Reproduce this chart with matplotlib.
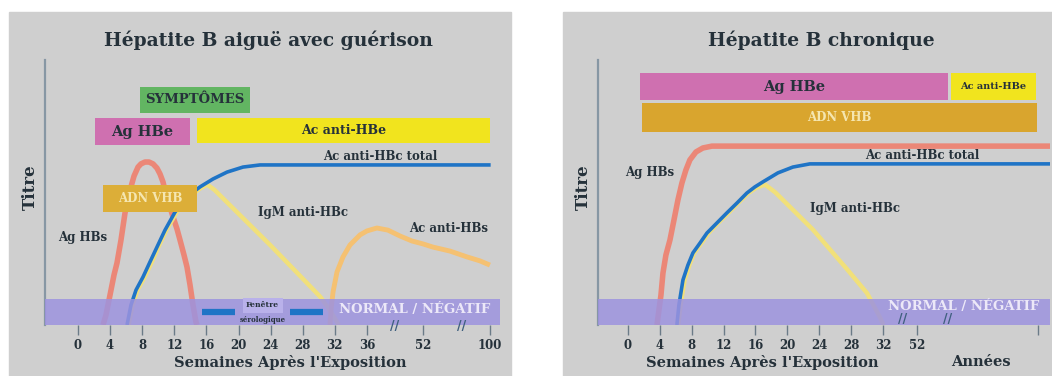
import numpy as np
import matplotlib
matplotlib.use('Agg')
import matplotlib.pyplot as plt
from matplotlib.patches import Rectangle

# --- data (weeks after exposure, relative titre 0..1) ---
# acute hepatitis B with recovery
acute_ticks = [0, 4, 8, 12, 16, 20, 24, 28, 32, 36, 52, 100]
acute_tick_labels = ['0', '4', '8', '12', '16', '20', '24', '28', '32', '36', '52', '100']
acute_tick_pos = [0, 1, 2, 3, 4, 5, 6, 7, 8, 9, 10.745, 12.832]

acute_hbs_w = [3.12, 3.49, 3.99, 4.49, 4.86, 5.36, 5.86, 6.23, 6.60, 6.98, 7.48, 7.85, 8.35, 8.85,
               9.35, 9.84, 10.22, 10.59, 10.97, 11.46, 11.84, 12.34, 12.71, 13.21, 13.58, 13.96,
               14.33, 14.70, 14.83]
acute_hbs_y = [0, 0.038, 0.113, 0.189, 0.234, 0.321, 0.423, 0.472, 0.521, 0.562, 0.596, 0.608, 0.615,
               0.615, 0.608, 0.592, 0.570, 0.540, 0.491, 0.445, 0.408, 0.362, 0.321, 0.264, 0.219,
               0.151, 0.075, 0.011, 0]

acute_hbc_w = [6.11, 6.60, 7.23, 8.10, 8.97, 9.84, 10.84, 12.09, 13.58, 15.20, 16.82, 18.57, 20.56,
               22.68, 100.5]
acute_hbc_y = [0, 0.075, 0.132, 0.181, 0.238, 0.294, 0.358, 0.426, 0.483, 0.521, 0.551, 0.577, 0.596,
               0.604, 0.604]

acute_igm_w = [6.3, 6.8, 7.4, 8.3, 9.2, 10.0, 11.0, 12.3, 13.8, 15.2, 16.1, 17.0, 20.0, 24.0, 28.0,
               30.2, 31.5, 32.5]
acute_igm_y = [0, 0.075, 0.132, 0.181, 0.238, 0.294, 0.358, 0.426, 0.483, 0.515, 0.530, 0.51, 0.42,
               0.30, 0.175, 0.106, 0.05, 0]

acute_hbs_ab_w = [31.40, 31.53, 31.78, 32.27, 33.02, 33.89, 35.14, 36.01, 38.86, 42.0, 45.43, 48.86,
                  52.0, 59.16, 71.34, 83.52, 92.83, 100.0]
acute_hbs_ab_y = [0, 0.057, 0.125, 0.20, 0.257, 0.302, 0.34, 0.355, 0.366, 0.358, 0.336, 0.317, 0.306,
                  0.294, 0.279, 0.257, 0.242, 0.226]

# bars: (label, start week, end week, y low, y high)
acute_bars = [
    ('SYMPTÔMES', 7.7, 21.4, 0.80, 0.90),
    ('Ag HBe', 2.1, 14.0, 0.68, 0.78),
    ('Ac anti-HBe', 14.8, 100.0, 0.687, 0.781),
]
acute_dna = ('ADN VHB', 3.12, 14.83, 0.426, 0.528)
acute_window = [(15.4, 19.6), (26.4, 30.5)]

# chronic hepatitis B
chronic_ticks = [0, 4, 8, 12, 16, 20, 24, 28, 32, 52, 100]
chronic_tick_labels = ['0', '4', '8', '12', '16', '20', '24', '28', '32', '52', '']
chronic_tick_pos = [0, 1, 2, 3, 4, 5, 6, 7, 8, 9.066, 12.859]

chronic_hbs_w = [3.64, 3.89, 4.14, 4.39, 4.76, 5.27, 5.77, 6.27, 6.77, 7.27, 7.77, 8.53, 9.40, 10.53,
                 104.8]
chronic_hbs_y = [0, 0.057, 0.113, 0.196, 0.264, 0.321, 0.396, 0.472, 0.536, 0.585, 0.623, 0.653, 0.668,
                 0.675, 0.675]

chronic_hbc_w = [6.14, 6.39, 6.90, 7.52, 8.15, 9.03, 9.91, 11.16, 12.41, 13.67, 14.92, 15.92, 16.93,
                 18.81, 20.69, 22.82, 104.8]
chronic_hbc_y = [0, 0.075, 0.17, 0.226, 0.272, 0.309, 0.347, 0.385, 0.423, 0.460, 0.498, 0.521, 0.540,
                 0.574, 0.596, 0.608, 0.608]

chronic_igm_w = [6.3, 6.6, 7.1, 7.7, 8.3, 9.2, 10.1, 11.3, 12.6, 13.8, 15.1, 16.1, 17.2, 18.5, 23.2,
                 27.5, 30.0, 31.6, 32.3]
chronic_igm_y = [0, 0.075, 0.17, 0.226, 0.272, 0.309, 0.347, 0.385, 0.423, 0.460, 0.498, 0.518, 0.53,
                 0.50, 0.36, 0.21, 0.12, 0.03, 0]

chronic_bars = [
    ('Ag HBe', 1.5, 64.3, 0.849, 0.951),
    ('Ac anti-HBe', 65.5, 99.3, 0.849, 0.951),
]
chronic_dna = ('ADN VHB', 1.75, 99.7, 0.728, 0.838)

# --- style ---
BG = '#cfcfcf'
RED = '#ef7f6e'
BLUE = '#1f74c6'
IGM = '#f1e07a'
HBS_AB = '#f5c172'
BAND = '#9d93df'
TXT = '#25313a'
SERIF = 'DejaVu Serif'

W, H = 1052, 376
fig = plt.figure(figsize=(W / 100, H / 100), dpi=100)


def px_axes(x0, x1, ytop, ybot):
    return fig.add_axes([x0 / W, 1 - ybot / H, (x1 - x0) / W, (ybot - ytop) / H])


def fig_text(x, y, s, **kw):
    fig.text(x / W, 1 - y / H, s, family=SERIF, fontweight='bold', color=TXT,
             ha='center', va='center', **kw)


def setup_axis(ax, ticks, pos, labels, xlim):
    wk = [-8] + ticks + [120]
    ext = pos[-1] + (pos[-1] - pos[-2]) / (ticks[-1] - ticks[-2]) * 20
    ps = [-2] + pos + [ext]
    ax.set_xscale('function', functions=(lambda w: np.interp(w, wk, ps),
                                         lambda p: np.interp(p, ps, wk)))
    ax.set_xlim(*xlim)
    ax.set_ylim(0, 1)
    ax.set_facecolor('none')
    for s in ['top', 'right', 'bottom']:
        ax.spines[s].set_visible(False)
    ax.spines['left'].set_color('#8797a4')
    ax.spines['left'].set_linewidth(1.6)
    ax.set_yticks([])
    ax.set_xticks(ticks)
    ax.set_xticklabels(labels, family=SERIF, fontweight='bold', fontsize=8.5, color=TXT)
    ax.tick_params(axis='x', direction='out', length=7, width=1, color='#6b7b88', pad=3)
    ax.axhspan(0, 0.10, color=BAND, alpha=0.85, zorder=3, lw=0)


def curve(ax, w, y, color, lw, z=2, alpha=1.0):
    ax.plot(w, y, color=color, lw=lw, zorder=z, alpha=alpha,
            solid_joinstyle='round', solid_capstyle='butt')


def draw_bar(ax, bar, color, txtcolor=TXT, fs=10):
    label, x0, x1, y0, y1 = bar
    ax.barh((y0 + y1) / 2, x1 - x0, left=x0, height=y1 - y0, color=color, zorder=4)
    # centre the label in screen space
    tr = ax.xaxis.get_transform()
    pm = (tr.transform([x0])[0] + tr.transform([x1])[0]) / 2
    xc = tr.inverted().transform([pm])[0]
    ax.text(xc, (y0 + y1) / 2, label, ha='center', va='center', family=SERIF,
            fontweight='bold', fontsize=fs, color=txtcolor, zorder=5)


def lbl(ax, x, y, s, fs=8.5, color=TXT, **kw):
    ax.text(x, y, s, ha='center', va='center', family=SERIF, fontweight='bold',
            fontsize=fs, color=color, zorder=6, **kw)


# background panels
for x0, w in [(9, 502), (563, 489)]:
    fig.patches.append(Rectangle((x0 / W, 0), w / W, 1 - 12 / H, transform=fig.transFigure,
                                 color=BG, zorder=-1))

# ---------------- left: acute ----------------
ax1 = px_axes(45, 500, 60, 325)
setup_axis(ax1, acute_ticks, acute_tick_pos, acute_tick_labels, (-4.11, 107.2))

curve(ax1, acute_hbs_w, acute_hbs_y, RED, 4, alpha=0.9)
curve(ax1, acute_igm_w, acute_igm_y, IGM, 3.2)
curve(ax1, acute_hbc_w, acute_hbc_y, BLUE, 2.6, z=2.5)
curve(ax1, acute_hbs_ab_w, acute_hbs_ab_y, HBS_AB, 3.5)

draw_bar(ax1, acute_bars[0], '#62b562', fs=9.5)
draw_bar(ax1, acute_bars[1], '#cf70b0', fs=10.5)
draw_bar(ax1, acute_bars[2], '#f1e41e', fs=9)
draw_bar(ax1, acute_dna, '#dcae38', txtcolor='#f5e6b0', fs=8.5)

for a, b in acute_window:
    ax1.plot([a, b], [0.05, 0.05], color=BLUE, lw=4.5, zorder=5, solid_capstyle='butt')
ax1.add_patch(Rectangle((20.5, 0.045), 5.0, 0.057, facecolor='#b9b1ea', edgecolor='none', zorder=5))
lbl(ax1, 23.0, 0.074, 'Fenêtre', fs=5.5)
lbl(ax1, 23.0, 0.018, 'sérologique', fs=5)

lbl(ax1, 0.62, 0.33, 'Ag HBs', fs=8.5)
lbl(ax1, 39.7, 0.634, 'Ac anti-HBc total', fs=8.5)
lbl(ax1, 28.0, 0.426, 'IgM anti-HBc', fs=8.5)
lbl(ax1, 70.6, 0.366, 'Ac anti-HBs', fs=8.5)
lbl(ax1, 49.7, 0.06, 'NORMAL / NÉGATIF', fs=9.5, color='#ece8f8')
lbl(ax1, 44.0, -0.005, '//', fs=9, color='#3f5f7f', clip_on=False)
lbl(ax1, 80.0, -0.005, '//', fs=9, color='#3f5f7f', clip_on=False)

fig_text(268, 40, 'Hépatite B aiguë avec guérison', fontsize=13.5)
fig_text(290, 362, "Semaines Après l'Exposition", fontsize=10.5)
fig_text(30, 187, 'Titre', fontsize=12, rotation=90)

# ---------------- right: chronic ----------------
ax2 = px_axes(598, 1050, 60, 325)
setup_axis(ax2, chronic_ticks, chronic_tick_pos, chronic_tick_labels, (-3.76, 104.8))

curve(ax2, chronic_hbs_w, chronic_hbs_y, RED, 4, alpha=0.9)
curve(ax2, chronic_igm_w, chronic_igm_y, IGM, 3.2)
curve(ax2, chronic_hbc_w, chronic_hbc_y, BLUE, 2.6, z=2.5)

draw_bar(ax2, chronic_bars[0], '#cf70b0', fs=10.5)
draw_bar(ax2, chronic_bars[1], '#f1e41e', fs=7)
draw_bar(ax2, chronic_dna, '#d9a52e', txtcolor='#f5e6b0', fs=8.5)

lbl(ax2, 2.76, 0.577, 'Ag HBs', fs=8.5)
lbl(ax2, 54.0, 0.64, 'Ac anti-HBc total', fs=8.5)
lbl(ax2, 28.5, 0.44, 'IgM anti-HBc', fs=8.5)
lbl(ax2, 70.6, 0.068, 'NORMAL / NÉGATIF', fs=9.5, color='#ece8f8')
lbl(ax2, 43.8, 0.02, '//', fs=9, color='#3f5f7f', clip_on=False)
lbl(ax2, 64.3, 0.02, '//', fs=9, color='#3f5f7f', clip_on=False)

fig_text(821, 40, 'Hépatite B chronique', fontsize=13.5)
fig_text(762, 362, "Semaines Après l'Exposition", fontsize=10.5)
fig_text(981, 362, 'Années', fontsize=10.5)
fig_text(583, 187, 'Titre', fontsize=12, rotation=90)

fig.savefig('out.png', dpi=100)
